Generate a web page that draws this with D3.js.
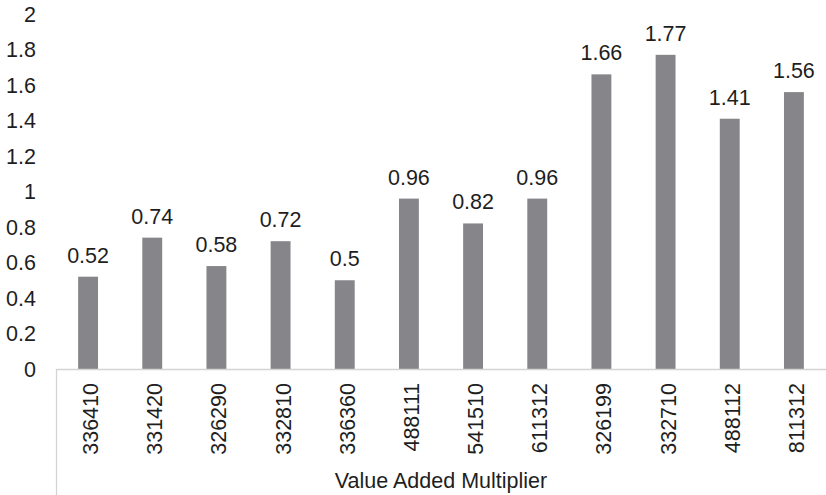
<!DOCTYPE html>
<html>
<head>
<meta charset="utf-8">
<script src="https://cdn.jsdelivr.net/npm/d3@7"></script>
<style>
  html, body { margin: 0; padding: 0; background: #fff; }
  svg { display: block; font-family: "Liberation Sans", Arial, sans-serif; }
</style>
</head>
<body>
<svg id="chart" width="826" height="495"></svg>
<script>
// NAICS codes and their value added multipliers
const categories = ["336410", "331420", "326290", "332810", "336360", "488111", "541510", "611312", "326199", "332710", "488112", "811312"];
const values = [0.52, 0.74, 0.58, 0.72, 0.5, 0.96, 0.82, 0.96, 1.66, 1.77, 1.41, 1.56];
const yTicks = [0, 0.2, 0.4, 0.6, 0.8, 1, 1.2, 1.4, 1.6, 1.8, 2];
const axisTitle = "Value Added Multiplier";

const svg = d3.select("#chart");
const plotLeft = 56, plotRight = 826, plotTop = 14, plotBottom = 369;
const fontSize = 21.5;
const textColor = "#1e1e1e";

const x = d3.scaleBand().domain(categories).range([plotLeft, plotRight]).paddingInner(0.69).paddingOuter(0.345);
const y = d3.scaleLinear().domain([0, 2]).range([plotBottom, plotTop]);

// y tick labels (no axis line)
svg.append("g").selectAll("text").data(yTicks).join("text")
  .attr("x", 36).attr("y", d => y(d)).attr("dy", "0.35em")
  .attr("text-anchor", "end").attr("font-size", fontSize).attr("fill", textColor)
  .text(d => d);

// bars
svg.append("g").selectAll("rect").data(values).join("rect")
  .attr("x", (d, i) => x(categories[i]))
  .attr("y", d => y(d))
  .attr("width", x.bandwidth())
  .attr("height", d => y(0) - y(d))
  .attr("fill", "#86868a");

// value labels
svg.append("g").selectAll("text").data(values).join("text")
  .attr("x", (d, i) => x(categories[i]) + x.bandwidth() / 2)
  .attr("y", d => y(d) - 14)
  .attr("text-anchor", "middle").attr("font-size", fontSize).attr("fill", textColor)
  .text(d => d);

// x axis line and left frame line
svg.append("line").attr("x1", plotLeft).attr("x2", plotRight).attr("y1", plotBottom + 0.5).attr("y2", plotBottom + 0.5)
  .attr("stroke", "#d4d4d4").attr("stroke-width", 1.3);
svg.append("line").attr("x1", plotLeft + 0.5).attr("x2", plotLeft + 0.5).attr("y1", plotBottom).attr("y2", 495)
  .attr("stroke", "#d4d4d4").attr("stroke-width", 1.3);

// rotated category labels
svg.append("g").selectAll("text").data(categories).join("text")
  .attr("transform", d => `translate(${x(d) + x.bandwidth() / 2 + 10},${plotBottom + 14}) rotate(-90)`)
  .attr("text-anchor", "end").attr("font-size", fontSize).attr("fill", textColor)
  .text(d => d);

// axis title
svg.append("text").attr("x", 441).attr("y", 488)
  .attr("text-anchor", "middle").attr("font-size", fontSize).attr("fill", textColor)
  .text(axisTitle);
</script>
</body>
</html>
